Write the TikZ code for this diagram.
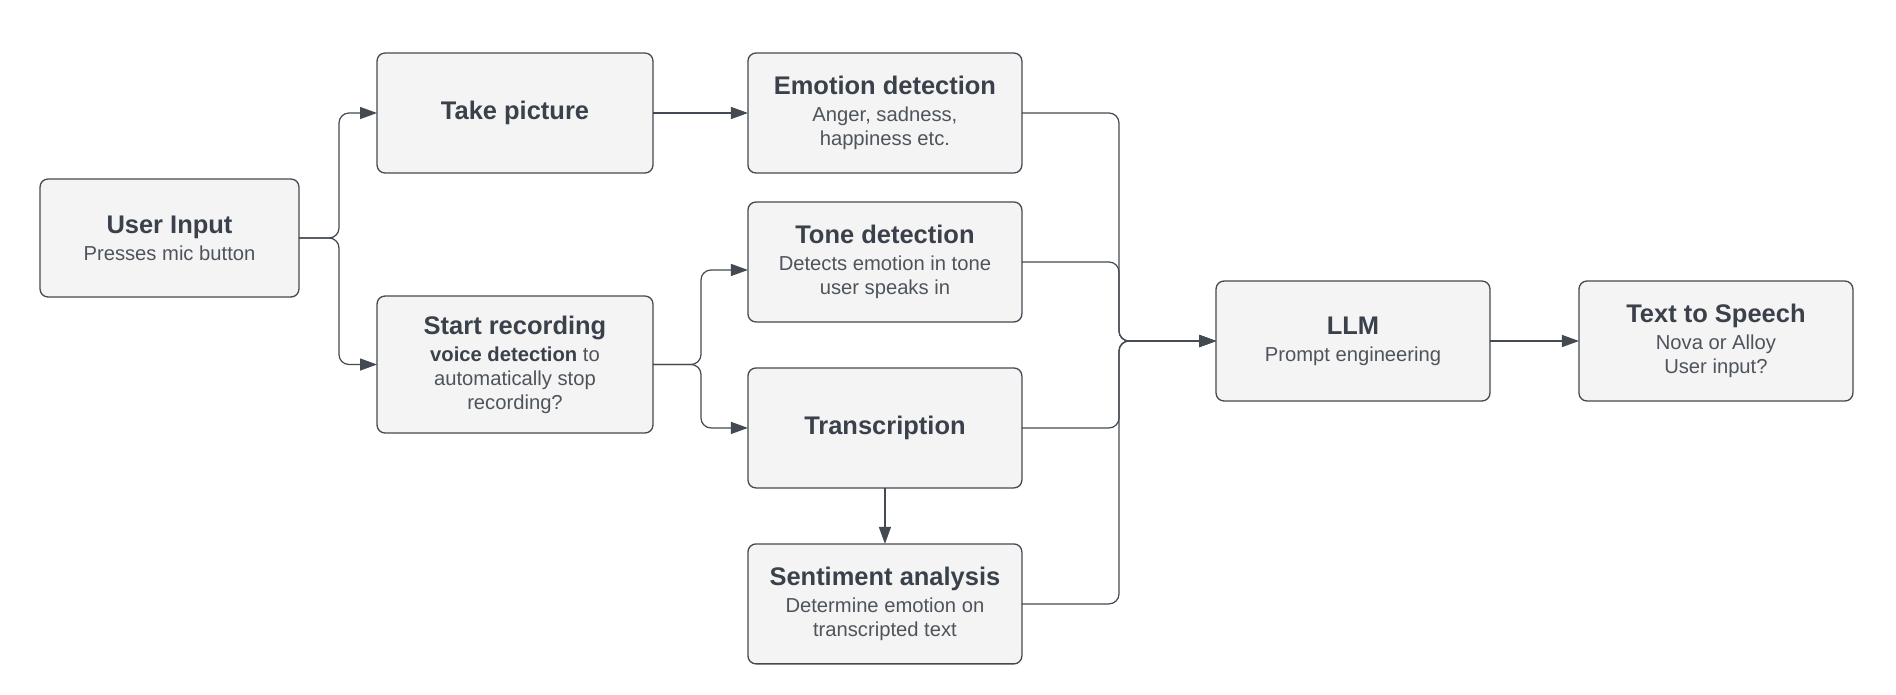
\documentclass[tikz,border=0pt]{standalone}
\usepackage{fontspec}
\setmainfont{Liberation Sans}
\usepackage{tikz}
\usetikzlibrary{positioning,arrows.meta}
\definecolor{ink}{HTML}{3A414A}
\definecolor{subink}{HTML}{4E545B}
\definecolor{boxfill}{HTML}{F4F4F4}
\definecolor{wire}{HTML}{444A52}
\tikzset{
	>={Triangle[length=3.4mm,width=2.4mm]},
	dedge/.style={arrows=->, wire, line width=0.7pt, rounded corners=2mm},
}
\tikzstyle{nbox} = [rectangle, minimum width=5.48cm, minimum height=2.4cm, line width=0.75pt, draw=wire, fill=boxfill, rounded corners=1.6mm, align=center, text=subink, inner sep=0pt, outer sep=0pt, font=\fontsize{11.5pt}{13.7pt}\selectfont]
\newcommand{\ttl}[1]{{\fontsize{14.5pt}{15pt}\selectfont\bfseries\color{ink}#1}}

\begin{document}
\begin{tikzpicture}[x=0.02cm,y=-0.02cm]
	\useasboundingbox (0,0) rectangle (1896,694);
	
	\node[nbox, minimum width=5.18cm, minimum height=2.36cm] (ui) at (169.5,238) {\ttl{User Input}\\[1.6pt]Presses mic button};
	\node[nbox, minimum width=5.52cm] (pic) at (515,113) {\ttl{Take picture}};
	\node[nbox, minimum width=5.52cm, minimum height=2.74cm] (rec) at (515,364.5) {\ttl{Start recording}\\[1.6pt]{\bfseries\color{ink}voice detection} to\\automatically stop\\recording?};
	
	\node[nbox] (emo) [right=1.9cm of pic] {\ttl{Emotion detection}\\[1.6pt]Anger, sadness,\\happiness etc.};
	\node[nbox] (tone) [below=0.58cm of emo] {\ttl{Tone detection}\\[1.6pt]Detects emotion in tone\\user speaks in};
	\node[nbox] (trans) [below=0.92cm of tone] {\ttl{Transcription}};
	\node[nbox] (sent) [below=1.12cm of trans] {\ttl{Sentiment analysis}\\[1.6pt]Determine emotion on\\transcripted text};
	
	\node[nbox] (llm) at (1353,341) {\ttl{LLM}\\[1.6pt]Prompt engineering};
	\node[nbox] (tts) [right=1.78cm of llm] {\ttl{Text to Speech}\\[1.6pt]Nova or Alloy\\User input?};
	\coordinate (mrg) at (1119,341);
	
	\draw[dedge] (ui.east) -- ++(40,0) |- (pic.west);
	\draw[dedge] (ui.east) -- ++(40,0) |- (rec.west);
	\path (pic) edge [dedge] (emo);
	\draw[dedge] (rec.east) -- ++(48,0) |- ([yshift=-0.16cm]tone.west);
	\draw[dedge] (rec.east) -- ++(48,0) |- (trans.west);
	\path (trans) edge [dedge] (sent);
	\foreach \s in {emo,tone,trans,sent}
	\draw[dedge] (\s.east) -| (mrg) -- (llm.west);
	\path (llm) edge [dedge] (tts);
\end{tikzpicture}
\end{document}
